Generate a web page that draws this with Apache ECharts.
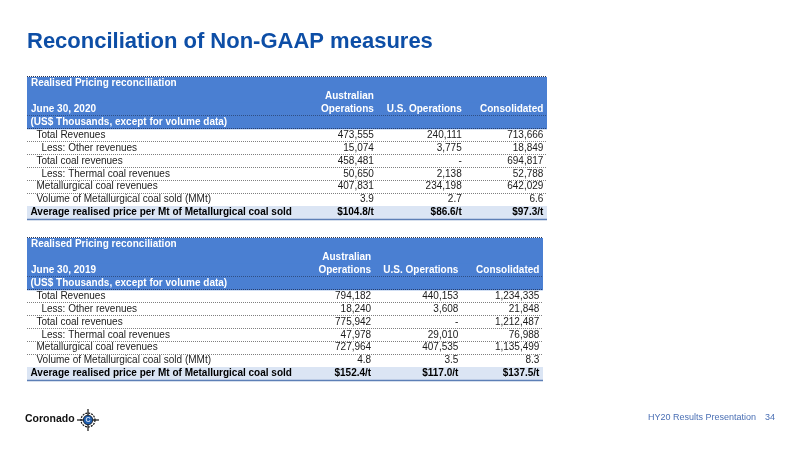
<!DOCTYPE html>
<html><head><meta charset="utf-8">
<script src="https://cdn.jsdelivr.net/npm/echarts@6/dist/echarts.min.js"></script>
<style>html,body{margin:0;padding:0;background:#fff}#c{width:800px;height:450px}</style>
</head><body><div id="c"></div>
<script>
// ---------- content ----------
const titleText = 'Reconciliation of Non-GAAP measures';
const tableTitle = 'Realised Pricing reconciliation';
const unitsNote = '(US$ Thousands, except for volume data)';
const columnTop = ['Australian', '', ''];
const columnBottom = ['Operations', 'U.S. Operations', 'Consolidated'];
const rowLabels = [
  'Total Revenues',
  'Less: Other revenues',
  'Total coal revenues',
  'Less: Thermal coal revenues',
  'Metallurgical coal revenues',
  'Volume of Metallurgical coal sold (MMt)',
  'Average realised price per Mt of Metallurgical coal sold'
];
const period2020 = 'June 30, 2020';
const aus2020  = [473555, 15074, 458481, 50650, 407831, 3.9, 104.8];
const us2020   = [240111, 3775, null, 2138, 234198, 2.7, 86.6];
const cons2020 = [713666, 18849, 694817, 52788, 642029, 6.6, 97.3];
const period2019 = 'June 30, 2019';
const aus2019  = [794182, 18240, 775942, 47978, 727964, 4.8, 152.4];
const us2019   = [440153, 3608, null, 29010, 407535, 3.5, 117.0];
const cons2019 = [1234335, 21848, 1212487, 76988, 1135499, 8.3, 137.5];
const footerText = 'HY20 Results Presentation';
const pageNumber = '34';
const brandName = 'Coronado';

// ---------- layout / style ----------
const FONT = '"Liberation Sans", Arial, Helvetica, sans-serif';
const rowKeys = ['title', 'head1', 'head2', 'units'].concat(rowLabels);
const colRight = [66.7, 83.6, 99.3];       // % of table width
const indentPx = [9.5, 14.5, 9.5, 14.5, 9.5, 9.5, 3.5];
const HEADER_BLUE = '#4a7fd2';
const AVG_BG = '#dbe5f4';
const TXT = '#1a1a1a';

function fmt(v, i) {
  if (v === null || v === undefined) return '-';
  if (i === 5) return v.toFixed(1);
  if (i === 6) return '$' + v.toFixed(1) + '/t';
  return v.toLocaleString('en-US');
}

function makeRender(period, cols) {
  return function (params, api) {
    const r = api.value(1);
    const c0 = api.coord([0, r]);
    const cy = c0[1];
    const h = api.size([0, 1])[1];
    const x0 = c0[0];
    const x1 = api.coord([100, r])[0];
    const xr = colRight.map(f => api.coord([f, r])[0]);
    const top = cy - h / 2, bot = cy + h / 2;
    const ch = [];
    const txt = (text, x, align, color, bold) => ({
      type: 'text',
      style: { text: text, x: x, y: cy, align: align, verticalAlign: 'middle',
        fill: color, fontSize: 10, fontFamily: FONT, fontWeight: bold ? 'bold' : 'normal' }
    });
    const hline = (y, color, dash, w) => ({
      type: 'line',
      shape: { x1: x0, y1: Math.round(y) + 0.5, x2: x1, y2: Math.round(y) + 0.5 },
      style: { stroke: color, lineWidth: w || 1, lineDash: dash || null }
    });
    if (r <= 3) {
      ch.push({ type: 'rect', shape: { x: x0, y: top, width: x1 - x0, height: h + 0.6 }, style: { fill: HEADER_BLUE } });
    }
    if (r === 10) {
      ch.push({ type: 'rect', shape: { x: x0, y: top, width: x1 - x0, height: h }, style: { fill: AVG_BG } });
    }
    if (r === 0) {
      ch.push(hline(top - 1, '#2a3550', [1, 1]));
      ch.push(txt(tableTitle, x0 + 4, 'left', '#ffffff', true));
    } else if (r === 1) {
      for (let k = 0; k < 3; k++) if (columnTop[k]) ch.push(txt(columnTop[k], xr[k], 'right', '#ffffff', true));
    } else if (r === 2) {
      ch.push(txt(period, x0 + 4, 'left', '#ffffff', true));
      for (let k = 0; k < 3; k++) ch.push(txt(columnBottom[k], xr[k], 'right', '#ffffff', true));
      ch.push(hline(bot - 0.5, '#2a3f6a', [1, 1]));
    } else if (r === 3) {
      ch.push(txt(unitsNote, x0 + 3.5, 'left', '#ffffff', true));
      ch.push(hline(bot - 0.5, '#2a3f6a', [1, 1]));
    } else {
      const i = r - 4;
      const bold = i === 6;
      ch.push(txt(rowLabels[i], x0 + indentPx[i], 'left', bold ? '#000' : TXT, bold));
      for (let k = 0; k < 3; k++) ch.push(txt(fmt(cols[k][i], i), xr[k], 'right', bold ? '#000' : TXT, bold));
      if (i < 5) ch.push(hline(bot - 0.5, '#7f7f7f', [1, 1]));
      else if (i === 5) ch.push(hline(bot - 0.5, '#1d2f55', null, 1));
      else ch.push(hline(bot, '#5d7fb6', null, 1.5));
    }
    return { type: 'group', children: ch };
  };
}

const rowData = rowKeys.map((k, i) => [0, i]);

const chart = echarts.init(document.getElementById('c'), null, { renderer: 'canvas' });
chart.setOption({
  animation: false,
  backgroundColor: '#ffffff',
  title: {
    text: titleText, left: 22, top: 26,
    textStyle: { fontFamily: FONT, fontSize: 22, fontWeight: 'bold', color: '#0d4ea6' }
  },
  grid: [
    { left: 27, top: 77, width: 520, height: 142 },
    { left: 27, top: 238, width: 516, height: 142 }
  ],
  xAxis: [
    { type: 'value', min: 0, max: 100, show: false, gridIndex: 0 },
    { type: 'value', min: 0, max: 100, show: false, gridIndex: 1 }
  ],
  yAxis: [
    { type: 'category', data: rowKeys, inverse: true, show: false, gridIndex: 0 },
    { type: 'category', data: rowKeys, inverse: true, show: false, gridIndex: 1 }
  ],
  series: [
    { type: 'custom', xAxisIndex: 0, yAxisIndex: 0, clip: false, silent: true,
      renderItem: makeRender(period2020, [aus2020, us2020, cons2020]),
      encode: { x: 0, y: 1 }, data: rowData },
    { type: 'custom', xAxisIndex: 1, yAxisIndex: 1, clip: false, silent: true,
      renderItem: makeRender(period2019, [aus2019, us2019, cons2019]),
      encode: { x: 0, y: 1 }, data: rowData }
  ],
  graphic: [
    { type: 'text', left: 648, top: 413,
      style: { text: footerText, fill: '#4a6fb4', fontSize: 9, fontFamily: FONT } },
    { type: 'text', left: 765, top: 413,
      style: { text: pageNumber, fill: '#4a6fb4', fontSize: 9, fontFamily: FONT } },
    { type: 'text', left: 25, top: 414,
      style: { text: brandName, fill: '#111111', fontSize: 10.5, fontWeight: 'bold', fontFamily: FONT } },
    { type: 'group', x: 88, y: 420, children: [
      { type: 'circle', shape: { cx: 0, cy: 0, r: 7 }, style: { fill: 'none', stroke: '#111', lineWidth: 1.2, lineDash: [2, 1] } },
      { type: 'line', shape: { x1: 0, y1: -11, x2: 0, y2: -4 }, style: { stroke: '#111', lineWidth: 1.2 } },
      { type: 'line', shape: { x1: 0, y1: 4, x2: 0, y2: 11 }, style: { stroke: '#111', lineWidth: 1.2 } },
      { type: 'line', shape: { x1: -11, y1: 0, x2: -4, y2: 0 }, style: { stroke: '#111', lineWidth: 1.2 } },
      { type: 'line', shape: { x1: 4, y1: 0, x2: 11, y2: 0 }, style: { stroke: '#111', lineWidth: 1.2 } },
      { type: 'circle', shape: { cx: 0, cy: 0, r: 4.8 }, style: { fill: '#1f5cab', stroke: '#111', lineWidth: 0.8 } },
      { type: 'text', style: { text: 'C', x: 0, y: 0.5, align: 'center', verticalAlign: 'middle', fill: '#cfe0f5', fontSize: 7, fontWeight: 'bold', fontFamily: FONT } }
    ] }
  ]
});
</script>
</body></html>
